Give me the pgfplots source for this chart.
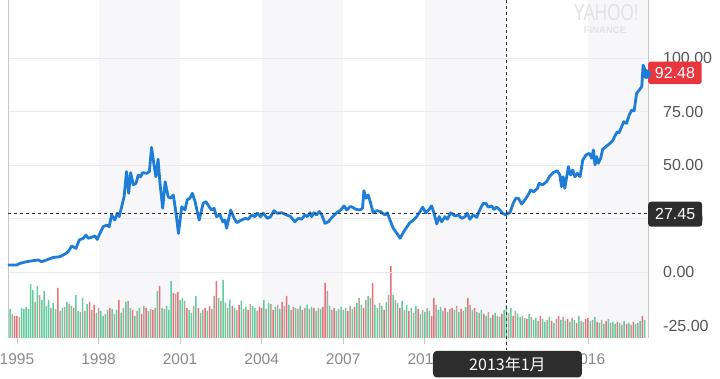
\documentclass[border=0pt]{standalone}
\usepackage{fontspec}
\setmainfont{Liberation Sans}
\newfontfamily\cjk{Noto Sans CJK SC}
\usepackage{pgfplots}
\pgfplotsset{compat=1.18}
\usepackage{pgfplotstable}

\definecolor{lineblue}{RGB}{30,125,215}
\definecolor{volg}{RGB}{95,205,158}
\definecolor{volr}{RGB}{232,112,120}
\definecolor{volt}{RGB}{180,164,152}
\definecolor{band}{RGB}{247,247,249}
\definecolor{gridc}{RGB}{234,234,236}
\definecolor{axc}{RGB}{200,200,200}
\definecolor{lblr}{RGB}{85,85,85}
\definecolor{lblx}{RGB}{138,138,138}
\definecolor{boxred}{RGB}{234,52,62}
\definecolor{boxdark}{RGB}{45,45,45}
\definecolor{dashc}{RGB}{50,50,50}
\definecolor{wm}{RGB}{226,226,228}

% month index k (0 = Jan 1995), relative volume height, colour code (1 up, 2 down, 3 mixed)
\pgfplotstableread[row sep=\\]{
k v c\\
-3 29 1\\ -2 24 3\\ -1 22 2\\
0 22 2\\ 1 21 3\\ 2 30 1\\ 3 29 1\\ 4 31 1\\ 5 29 1\\ 6 54 1\\ 7 48 1\\ 8 36 3\\ 9 52 1\\ 10 43 3\\ 11 38 1\\
12 47 1\\ 13 32 1\\ 14 38 1\\ 15 30 3\\ 16 35 1\\ 17 29 1\\ 18 50 2\\ 19 27 3\\ 20 30 1\\ 21 31 3\\ 22 36 1\\ 23 34 3\\
24 32 1\\ 25 30 2\\ 26 43 1\\ 27 27 1\\ 28 26 3\\ 29 40 1\\ 30 27 3\\ 31 34 1\\ 32 36 2\\ 33 28 3\\ 34 33 2\\ 35 25 1\\
36 30 3\\ 37 27 1\\ 38 22 1\\ 39 24 3\\ 40 28 1\\ 41 30 2\\ 42 29 1\\ 43 24 3\\ 44 28 1\\ 45 38 2\\ 46 25 1\\ 47 30 3\\
48 36 1\\ 49 37 3\\ 50 30 1\\ 51 28 2\\ 52 22 1\\ 53 27 3\\ 54 30 1\\ 55 24 2\\ 56 32 3\\ 57 30 2\\ 58 27 1\\ 59 29 3\\
60 28 2\\ 61 30 3\\ 62 47 1\\ 63 52 2\\ 64 30 1\\ 65 29 3\\ 66 32 1\\ 67 28 1\\ 68 57 1\\ 69 45 2\\ 70 44 3\\ 71 46 2\\
72 38 1\\ 73 40 1\\ 74 37 3\\ 75 30 2\\ 76 28 1\\ 77 25 1\\ 78 32 3\\ 79 42 1\\ 80 30 2\\ 81 25 1\\ 82 28 3\\ 83 30 2\\
84 27 1\\ 85 32 2\\ 86 29 3\\ 87 42 3\\ 88 57 2\\ 89 40 1\\ 90 37 3\\ 91 58 1\\ 92 35 1\\ 93 30 3\\ 94 38 1\\ 95 32 2\\
96 30 1\\ 97 28 3\\ 98 33 2\\ 99 37 1\\ 100 29 3\\ 101 31 1\\ 102 28 2\\ 103 34 3\\ 104 32 1\\ 105 30 1\\ 106 27 3\\ 107 31 2\\
108 30 2\\ 109 38 1\\ 110 29 3\\ 111 35 1\\ 112 34 3\\ 113 28 2\\ 114 31 1\\ 115 33 3\\ 116 29 1\\ 117 36 2\\ 118 32 3\\ 119 42 2\\
120 33 1\\ 121 28 3\\ 122 31 2\\ 123 30 1\\ 124 29 3\\ 125 32 1\\ 126 28 2\\ 127 30 3\\ 128 33 1\\ 129 29 3\\ 130 31 1\\ 131 30 2\\
132 27 1\\ 133 30 3\\ 134 29 1\\ 135 31 2\\ 136 55 2\\ 137 47 3\\ 138 32 1\\ 139 28 3\\ 140 30 2\\ 141 27 1\\ 142 29 3\\ 143 31 1\\
144 28 3\\ 145 30 1\\ 146 27 2\\ 147 32 3\\ 148 29 1\\ 149 31 2\\ 150 35 1\\ 151 40 3\\ 152 33 1\\ 153 30 2\\ 154 38 3\\ 155 42 1\\
156 40 3\\ 157 55 2\\ 158 33 1\\ 159 30 1\\ 160 35 3\\ 161 32 1\\ 162 28 2\\ 163 36 1\\ 164 43 3\\ 165 72 2\\ 166 43 1\\ 167 38 3\\
168 35 1\\ 169 30 2\\ 170 37 1\\ 171 28 3\\ 172 33 1\\ 173 27 2\\ 174 30 1\\ 175 25 3\\ 176 32 1\\ 177 29 2\\ 178 24 1\\ 179 28 3\\
180 26 1\\ 181 30 3\\ 182 27 1\\ 183 22 2\\ 184 40 2\\ 185 33 3\\ 186 28 1\\ 187 31 1\\ 188 27 3\\ 189 30 2\\ 190 26 1\\ 191 29 3\\
192 30 2\\ 193 28 1\\ 194 32 3\\ 195 26 1\\ 196 29 2\\ 197 27 3\\ 198 31 1\\ 199 40 2\\ 200 33 3\\ 201 28 1\\ 202 30 2\\ 203 26 1\\
204 25 3\\ 205 28 1\\ 206 24 2\\ 207 22 1\\ 208 26 3\\ 209 20 1\\ 210 23 2\\ 211 25 1\\ 212 22 3\\ 213 21 1\\ 214 24 2\\ 215 28 1\\
216 33 1\\ 217 25 3\\ 218 30 1\\ 219 22 2\\ 220 27 3\\ 221 24 1\\ 222 21 1\\ 223 22 3\\ 224 20 1\\ 225 19 2\\ 226 24 1\\ 227 21 3\\
228 18 1\\ 229 20 1\\ 230 17 3\\ 231 22 2\\ 232 19 1\\ 233 16 1\\ 234 18 3\\ 235 21 1\\ 236 17 2\\ 237 15 1\\ 238 19 3\\ 239 22 2\\
240 18 1\\ 241 21 3\\ 242 17 1\\ 243 19 2\\ 244 16 1\\ 245 20 3\\ 246 18 1\\ 247 15 2\\ 248 22 1\\ 249 17 3\\ 250 16 1\\ 251 19 2\\
252 20 2\\ 253 17 1\\ 254 18 3\\ 255 21 1\\ 256 16 2\\ 257 15 1\\ 258 18 3\\ 259 14 1\\ 260 17 2\\ 261 19 1\\ 262 15 3\\ 263 16 1\\
264 14 1\\ 265 16 2\\ 266 15 1\\ 267 13 3\\ 268 17 1\\ 269 14 2\\ 270 15 1\\ 271 13 3\\ 272 16 2\\ 273 14 1\\ 274 15 3\\ 275 17 1\\
276 22 2\\ 277 18 1\\
}\voltab

\begin{document}
\begin{tikzpicture}
\path[use as bounding box] (0,0) rectangle (720pt,379pt);

% ---------- volume axis (hidden) ----------
\begin{axis}[
  at={(8pt,41pt)}, anchor=south west,
  scale only axis, width=640pt, height=338pt,
  xmin=-3.97, xmax=278.49, ymin=0, ymax=338,
  axis lines=none, clip=false,
]
\fill[band] (axis cs:36,0) rectangle (axis cs:72,338);
\fill[band] (axis cs:108,0) rectangle (axis cs:144,338);
\fill[band] (axis cs:180,0) rectangle (axis cs:216,338);
\fill[band] (axis cs:252,0) rectangle (axis cs:278.49,338);
\addplot[ybar, bar shift=0pt, bar width=1.5pt, fill=volg, draw=none, restrict expr to domain={\thisrow{c}}{0.5:1.5}] table[x=k,y=v]{\voltab};
\addplot[ybar, bar shift=0pt, bar width=1.5pt, fill=volr, draw=none, restrict expr to domain={\thisrow{c}}{1.5:2.5}] table[x=k,y=v]{\voltab};
\addplot[ybar, bar shift=0pt, bar width=1.5pt, fill=volt, draw=none, restrict expr to domain={\thisrow{c}}{2.5:3.5}] table[x=k,y=v]{\voltab};
\end{axis}

% ---------- price axis ----------
\begin{axis}[
  at={(8pt,41pt)}, anchor=south west,
  scale only axis, width=640pt, height=338pt,
  xmin=1994.67, xmax=2018.21, ymin=-30.6, ymax=127.05,
  clip=false,
  axis line style={draw=none},
  xtick={1995,1998,2001,2004,2007,2010,2013,2016},
  ytick={-25,0,25,50,75,100},
  xtick pos=lower, ytick pos=right,
  yticklabel pos=right,
  tick align=outside,
  major tick length=6pt,
  x tick style={axc, line width=0.8pt},
  y tick style={draw=none},
  xticklabel style={font=\fontsize{15.5}{18}\selectfont, text=lblx, inner sep=0pt, anchor=north, yshift=-9pt,
    /pgf/number format/1000 sep={}, /pgf/number format/assume math mode=true},
  yticklabel style={font=\fontsize{16}{19}\selectfont, text=lblr, anchor=west, inner sep=0pt, xshift=9pt,
    /pgf/number format/.cd, fixed, fixed zerofill, precision=2, assume math mode=true},
]
% grid
\draw[gridc, line width=0.8pt] (axis cs:1994.67,0) -- (axis cs:2018.21,0);
\draw[gridc, line width=0.8pt] (axis cs:1994.67,25) -- (axis cs:2018.21,25);
\draw[gridc, line width=0.8pt] (axis cs:1994.67,50) -- (axis cs:2018.21,50);
\draw[gridc, line width=0.8pt] (axis cs:1994.67,75) -- (axis cs:2018.21,75);
\draw[gridc, line width=0.8pt] (axis cs:1994.67,100) -- (axis cs:2018.21,100);
% side lines
\draw[axc, line width=0.8pt] (axis cs:1994.67,-30.6) -- (axis cs:1994.67,127.05);
\draw[axc, line width=0.8pt] (axis cs:2018.21,-30.6) -- (axis cs:2018.21,127.05);

\addplot[lineblue, line width=2.8pt, line join=round] coordinates {
(1994.67,3.4) (1994.99,3.4) (1995.11,4.2) (1995.36,5.0) (1995.60,5.5) (1995.78,5.8) (1995.91,5.0)
(1996.09,5.8) (1996.34,7.0) (1996.58,7.3) (1996.77,8.6) (1996.89,9.7) (1997.01,12.3) (1997.17,11.2)
(1997.29,15.1) (1997.44,15.9) (1997.54,17.4) (1997.62,15.9) (1997.75,16.4) (1997.87,17.0) (1997.95,15.4)
(1998.05,18.2) (1998.17,21.3) (1998.30,22.1) (1998.39,21.3) (1998.48,26.8) (1998.60,24.4) (1998.69,27.6)
(1998.76,26.0) (1998.85,30.6) (1998.94,35.3) (1999.03,47.0) (1999.11,36.9) (1999.18,46.5) (1999.28,40.8)
(1999.38,41.6) (1999.46,45.4) (1999.55,44.6) (1999.62,46.5) (1999.77,46.2) (1999.87,47.0) (1999.95,58.3)
(2000.04,50.1) (2000.11,44.6) (2000.19,52.8) (2000.26,41.6) (2000.36,29.9) (2000.45,42.3) (2000.56,35.3)
(2000.65,34.6) (2000.75,36.1) (2000.85,27.6) (2000.94,18.2) (2001.06,30.6) (2001.18,29.1) (2001.26,33.8)
(2001.36,34.6) (2001.45,36.9) (2001.55,33.0) (2001.70,24.4) (2001.85,32.2) (2001.95,33.0) (2002.07,30.6)
(2002.16,29.1) (2002.25,29.9) (2002.34,26.0) (2002.47,26.8) (2002.57,23.6) (2002.65,24.4) (2002.71,20.6)
(2002.86,29.1) (2002.96,26.0) (2003.08,23.2) (2003.26,24.4) (2003.39,25.2) (2003.51,24.8) (2003.63,26.8)
(2003.75,26.0) (2003.84,27.6) (2003.96,26.0) (2004.06,27.6) (2004.21,25.2) (2004.33,26.0) (2004.45,28.8)
(2004.57,27.6) (2004.74,27.8) (2004.92,26.8) (2005.07,26.0) (2005.22,23.6) (2005.35,25.2) (2005.47,24.8)
(2005.59,26.8) (2005.68,26.0) (2005.78,27.8) (2005.84,26.0) (2005.92,27.8) (2006.02,26.8) (2006.12,28.4)
(2006.21,26.8) (2006.33,22.9) (2006.45,23.6) (2006.61,26.0) (2006.76,27.8) (2006.91,29.1) (2007.03,31.0)
(2007.13,29.1) (2007.25,30.6) (2007.31,30.6) (2007.47,29.4) (2007.61,29.1) (2007.71,29.9) (2007.76,38.1)
(2007.84,34.6) (2007.92,36.1) (2008.01,32.2) (2008.10,27.8) (2008.23,28.8) (2008.38,28.3) (2008.53,26.8)
(2008.62,27.8) (2008.72,24.4) (2008.84,20.6) (2008.99,17.9) (2009.09,15.9) (2009.19,18.2) (2009.31,20.6)
(2009.45,23.2) (2009.58,24.4) (2009.70,26.0) (2009.82,28.3) (2009.92,30.4) (2010.04,27.8) (2010.16,29.4)
(2010.25,31.0) (2010.34,27.6) (2010.44,22.6) (2010.53,26.0) (2010.62,23.6) (2010.74,26.0) (2010.83,24.8)
(2010.95,27.8) (2011.11,26.3) (2011.23,26.8) (2011.36,25.2) (2011.48,26.0) (2011.56,27.6) (2011.66,24.8)
(2011.78,26.8) (2011.91,25.7) (2012.03,29.4) (2012.15,32.2) (2012.25,32.2) (2012.33,30.4) (2012.46,31.0)
(2012.54,29.4) (2012.64,30.4) (2012.74,29.4) (2012.86,27.6) (2012.98,26.8) (2013.02,27.45) (2013.13,27.8)
(2013.25,32.2) (2013.35,34.6) (2013.44,34.6) (2013.56,31.9) (2013.68,33.8) (2013.80,36.1) (2013.89,38.4)
(2014.01,37.6) (2014.14,39.2) (2014.21,41.6) (2014.33,40.8) (2014.48,42.3) (2014.60,45.0) (2014.72,46.5)
(2014.87,47.4) (2014.97,45.4) (2015.03,40.0) (2015.09,44.6) (2015.15,39.2) (2015.28,49.3) (2015.36,45.4)
(2015.44,47.8) (2015.52,44.6) (2015.61,46.2) (2015.71,44.6) (2015.81,52.4) (2015.93,54.8) (2016.05,55.5)
(2016.14,53.2) (2016.20,57.1) (2016.26,50.1) (2016.32,54.0) (2016.38,50.9) (2016.47,53.2) (2016.54,57.4)
(2016.66,58.6) (2016.81,60.2) (2016.91,61.4) (2016.99,63.6) (2017.08,65.6) (2017.15,65.2) (2017.24,68.0)
(2017.32,70.3) (2017.42,69.5) (2017.52,73.4) (2017.61,75.7) (2017.70,75.3) (2017.79,83.5) (2017.89,85.1)
(2017.98,86.6) (2018.03,96.7) (2018.10,94.4) (2018.15,92.48)
};

% crosshair
\draw[dashc, line width=1pt, dash pattern=on 3pt off 3pt] (axis cs:1994.67,27.45) -- (axis cs:2018.21,27.45);
\draw[dashc, line width=1pt, dash pattern=on 3pt off 3pt] (axis cs:2013.02,127.05) -- ([yshift=-12pt]axis cs:2013.02,-30.6);

% value boxes
\node[fill=boxred, text=white, rounded corners=2.5pt, minimum width=53.5pt, minimum height=22.5pt, inner sep=0pt,
  anchor=west, font=\fontsize{16}{19}\selectfont] at (axis cs:2018.21,93.07) {92.48};
\node[fill=boxdark, text=white, rounded corners=3pt, minimum width=54pt, minimum height=25pt, inner sep=0pt,
  anchor=west, font=\fontsize{16}{19}\selectfont] at (axis cs:2018.21,27.15) {27.45};
\node[fill=boxdark, text=white, rounded corners=4pt, minimum width=149pt, minimum height=26.6pt, inner sep=0pt,
  anchor=north, font=\cjk\fontsize{16}{19}\selectfont] at ([yshift=-12.7pt]axis cs:2013.04,-30.6) {2013年1月};

% last point
\addplot[only marks, mark=*, mark size=4.6pt, mark options={fill=lineblue, draw=lineblue}] coordinates {(2018.15,92.48)};
\end{axis}

% watermark
\node[text=wm, font=\fontsize{23}{24}\selectfont, xscale=0.74, inner sep=0pt] at (606pt,366pt) {YAHOO!};
\node[text=wm, font=\bfseries\fontsize{9.5}{11}\selectfont, inner sep=0pt] at (605pt,348.5pt) {FINANCE};
\end{tikzpicture}
\end{document}
